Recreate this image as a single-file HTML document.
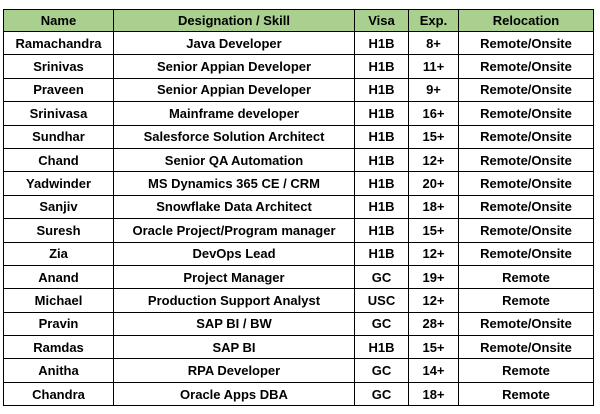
<!DOCTYPE html>
<html><head><meta charset="utf-8"><style>
body{margin:0;background:#fff;width:600px;height:414px;overflow:hidden}
table{position:absolute;left:3px;top:9px;border-collapse:collapse;font-family:"Liberation Sans",sans-serif;font-weight:bold;font-size:13px;color:#000;table-layout:fixed}
td{border:1px solid #000;text-align:center;padding:0;height:22.4px;white-space:nowrap}
tr.h td{background:#a9d08e;height:21px}
</style></head><body>
<table>
<colgroup><col style="width:110px"><col style="width:241px"><col style="width:54px"><col style="width:50px"><col style="width:135px"></colgroup>
<tr class="h"><td>Name</td><td>Designation / Skill</td><td>Visa</td><td>Exp.</td><td>Relocation</td></tr>
<tr><td>Ramachandra</td><td>Java Developer</td><td>H1B</td><td>8+</td><td>Remote/Onsite</td></tr>
<tr><td>Srinivas</td><td>Senior Appian Developer</td><td>H1B</td><td>11+</td><td>Remote/Onsite</td></tr>
<tr><td>Praveen</td><td>Senior Appian Developer</td><td>H1B</td><td>9+</td><td>Remote/Onsite</td></tr>
<tr><td>Srinivasa</td><td>Mainframe developer</td><td>H1B</td><td>16+</td><td>Remote/Onsite</td></tr>
<tr><td>Sundhar</td><td>Salesforce Solution Architect</td><td>H1B</td><td>15+</td><td>Remote/Onsite</td></tr>
<tr><td>Chand</td><td>Senior QA Automation</td><td>H1B</td><td>12+</td><td>Remote/Onsite</td></tr>
<tr><td>Yadwinder</td><td>MS Dynamics 365 CE / CRM</td><td>H1B</td><td>20+</td><td>Remote/Onsite</td></tr>
<tr><td>Sanjiv</td><td>Snowflake Data Architect</td><td>H1B</td><td>18+</td><td>Remote/Onsite</td></tr>
<tr><td>Suresh</td><td>Oracle Project/Program manager</td><td>H1B</td><td>15+</td><td>Remote/Onsite</td></tr>
<tr><td>Zia</td><td>DevOps Lead</td><td>H1B</td><td>12+</td><td>Remote/Onsite</td></tr>
<tr><td>Anand</td><td>Project Manager</td><td>GC</td><td>19+</td><td>Remote</td></tr>
<tr><td>Michael</td><td>Production Support Analyst</td><td>USC</td><td>12+</td><td>Remote</td></tr>
<tr><td>Pravin</td><td>SAP BI / BW</td><td>GC</td><td>28+</td><td>Remote/Onsite</td></tr>
<tr><td>Ramdas</td><td>SAP BI</td><td>H1B</td><td>15+</td><td>Remote/Onsite</td></tr>
<tr><td>Anitha</td><td>RPA Developer</td><td>GC</td><td>14+</td><td>Remote</td></tr>
<tr><td>Chandra</td><td>Oracle Apps DBA</td><td>GC</td><td>18+</td><td>Remote</td></tr>
</table>
</body></html>
